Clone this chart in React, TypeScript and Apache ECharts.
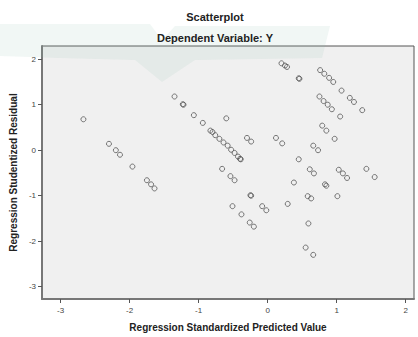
import React, { useEffect, useRef } from "react";
import * as echarts from "echarts";

const titleText = "Scatterplot";
const subtitleText = "Dependent Variable: Y";
const xAxisTitle = "Regression Standardized Predicted Value";
const yAxisTitle = "Regression Studentized Residual";

const xTicks = [-3, -2, -1, 0, 1, 2];
const yTicks = [-3, -2, -1, 0, 1, 2];

const predicted = [
  -2.67, -2.3, -2.2, -2.14, -1.96, -1.75, -1.69, -1.64,
  -1.35, -1.23, -1.22, -1.07, -0.94, -0.6,
  -0.83, -0.8, -0.76, -0.7, -0.64, -0.58, -0.53, -0.48, -0.43, -0.4, -0.39,
  -0.3, -0.24, -0.66, -0.54, -0.48, -0.25, -0.24, -0.51, -0.38, -0.26, -0.2, -0.08, -0.02,
  0.2, 0.25, 0.28, 0.45, 0.46, 0.76, 0.82, 0.89, 0.95, 1.07, 1.19, 1.25, 1.37,
  0.75, 0.81, 0.87, 0.93, 1.05, 0.79, 0.85, 0.97,
  0.12, 0.21, 0.66, 0.73, 0.45, 0.61, 0.67, 1.03, 1.09, 1.15, 1.43, 1.55,
  0.38, 0.83, 0.85, 0.58, 0.63, 1.01, 0.29, 0.59, 0.55, 0.66,
];

const residual = [
  0.68, 0.14, 0.0, -0.1, -0.36, -0.66, -0.75, -0.84,
  1.18, 1.01, 1.0, 0.77, 0.6, 0.7,
  0.43, 0.4, 0.33, 0.25, 0.17, 0.1, 0.01, -0.06, -0.14, -0.19, -0.2,
  0.27, 0.19, -0.41, -0.57, -0.66, -0.99, -1.0, -1.23, -1.41, -1.59, -1.68, -1.23, -1.32,
  1.91, 1.86, 1.83, 1.58, 1.57, 1.76, 1.68, 1.59, 1.5, 1.31, 1.15, 1.06, 0.88,
  1.18, 1.08, 1.0, 0.9, 0.74, 0.54, 0.43, 0.25,
  0.27, 0.15, 0.1, 0.0, -0.2, -0.42, -0.51, -0.43, -0.51, -0.61, -0.41, -0.59,
  -0.71, -0.75, -0.78, -1.01, -1.06, -1.01, -1.18, -1.61, -2.14, -2.3,
];

const FONT = "'Liberation Sans', Arial, sans-serif";

export default function App() {
  const ref = useRef<HTMLDivElement>(null);

  useEffect(() => {
    if (!ref.current) return;
    const chart = echarts.init(ref.current, null, { renderer: "svg" });
    const data = predicted.map((x, i) => [x, residual[i]]);

    chart.setOption({
      animation: false,
      backgroundColor: "#ffffff",
      textStyle: { fontFamily: FONT },
      graphic: [
        {
          type: "polygon",
          z: 1,
          silent: true,
          shape: {
            points: [
              [0, 24], [150, 24], [162, 40], [175, 26], [330, 26],
              [322, 58], [195, 60], [162, 82], [135, 60], [60, 58], [0, 56],
            ],
          },
          style: { fill: "rgba(150,195,178,0.13)" },
        },
        {
          type: "text",
          z: 10,
          x: 215,
          y: 17,
          style: {
            text: titleText,
            fontSize: 11,
            fontWeight: "bold",
            fontFamily: FONT,
            fill: "#222",
            align: "center",
            verticalAlign: "middle",
          },
        },
        {
          type: "text",
          z: 10,
          x: 215,
          y: 38,
          style: {
            text: subtitleText,
            fontSize: 11,
            fontWeight: "bold",
            fontFamily: FONT,
            fill: "#222",
            align: "center",
            verticalAlign: "middle",
          },
        },
      ],
      grid: {
        left: 38,
        top: 46,
        right: 4,
        bottom: 32,
        show: true,
        backgroundColor: "#f0f0f0",
        borderColor: "#555",
        borderWidth: 1,
      },
      xAxis: {
        type: "value",
        min: -3.27,
        max: 2.12,
        name: xAxisTitle,
        nameLocation: "middle",
        nameGap: 23,
        nameTextStyle: { fontSize: 10, fontWeight: "bold", color: "#222", fontFamily: FONT },
        axisLine: { show: true, onZero: false, lineStyle: { color: "#777", width: 2 } },
        axisTick: { show: true, length: 4, customValues: xTicks, lineStyle: { color: "#555" } },
        axisLabel: { customValues: xTicks, fontSize: 8, color: "#444", margin: 7 },
        splitLine: { show: false },
      },
      yAxis: {
        type: "value",
        min: -3.27,
        max: 2.29,
        name: yAxisTitle,
        nameLocation: "middle",
        nameGap: 17,
        nameTextStyle: { fontSize: 10, fontWeight: "bold", color: "#222", fontFamily: FONT },
        axisLine: { show: true, onZero: false, lineStyle: { color: "#777", width: 2 } },
        axisTick: { show: true, length: 4, customValues: yTicks, lineStyle: { color: "#555" } },
        axisLabel: { customValues: yTicks, fontSize: 8, color: "#444", margin: 6 },
        splitLine: { show: false },
      },
      series: [
        {
          type: "scatter",
          z: 5,
          symbol: "circle",
          symbolSize: 5,
          data,
          itemStyle: { color: "rgba(0,0,0,0)", borderColor: "#555", borderWidth: 1 },
        },
      ],
    });
    return () => chart.dispose();
  }, []);

  return (
    <div
      ref={ref}
      style={{ position: "fixed", left: 0, top: 0, width: 418, height: 337 }}
    />
  );
}
